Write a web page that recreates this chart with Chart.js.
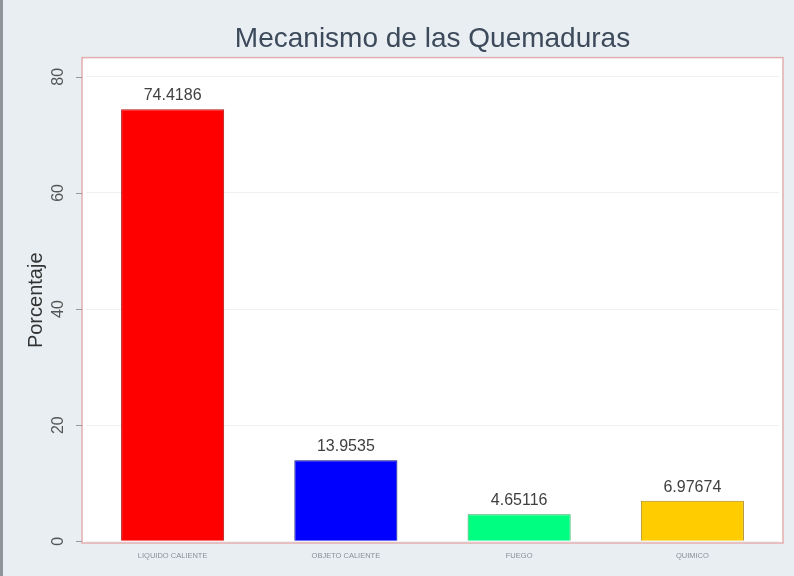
<!DOCTYPE html>
<html>
<head>
<meta charset="utf-8">
<script src="https://cdn.jsdelivr.net/npm/chart.js@4.4.1/dist/chart.umd.min.js"></script>
<style>
  html, body { margin: 0; padding: 0; background: #e9eef2; }
  #wrap { width: 794px; height: 576px; position: relative; }
</style>
</head>
<body>
<div id="wrap"><canvas id="chart" width="794" height="576"></canvas></div>
<script>
// ─── Data ─────────────────────────────────────────────────────────────────────
const categories = ['LIQUIDO CALIENTE', 'OBJETO CALIENTE', 'FUEGO', 'QUIMICO'];
const percentages = [74.4186, 13.9535, 4.65116, 6.97674];
const valueLabels = ['74.4186', '13.9535', '4.65116', '6.97674'];
const yTicks = [0, 20, 40, 60, 80];

const barColors  = ['#ff0000', '#0000ff', '#00ff80', '#ffcc00'];
const edgeColors = ['#b01818', '#10107a', '#2aa860', '#a88a20'];

const FONT = '"Liberation Sans", Arial, sans-serif';
const INSET = 4;   // plot region is a little wider than the bar area (Stata-style)

// Background, left frame edge, plot region and its pink border
const framePlugin = {
    id: 'frame',
    beforeDraw(chart) {
        const { ctx, width, height, chartArea: a } = chart;
        ctx.save();
        ctx.fillStyle = '#e9eef2';
        ctx.fillRect(0, 0, width, height);
        ctx.fillStyle = '#8e969c';
        ctx.fillRect(0, 0, 3, height);
        ctx.fillStyle = '#ffffff';
        ctx.fillRect(a.left - INSET, a.top, a.right - a.left + 2 * INSET, a.bottom - a.top);
        ctx.restore();
    },
    afterDatasetsDraw(chart) {
        const { ctx, chartArea: a } = chart;
        const y = chart.scales.y;
        ctx.save();
        ctx.strokeStyle = '#e3aeb0';
        ctx.lineWidth = 1.5;
        ctx.strokeRect(a.left - INSET, a.top, a.right - a.left + 2 * INSET, a.bottom - a.top);
        // outside tick marks on the y axis
        ctx.strokeStyle = '#9a9a9a';
        ctx.lineWidth = 1;
        yTicks.forEach(v => {
            const py = Math.round(y.getPixelForValue(v)) + 0.5;
            ctx.beginPath();
            ctx.moveTo(a.left - INSET - 6, py);
            ctx.lineTo(a.left - INSET, py);
            ctx.stroke();
        });
        ctx.restore();
    }
};

// Value labels above each bar
const valueLabelPlugin = {
    id: 'valueLabels',
    afterDatasetsDraw(chart) {
        const { ctx } = chart;
        const meta = chart.getDatasetMeta(0);
        ctx.save();
        ctx.font = '16px ' + FONT;
        ctx.fillStyle = '#404040';
        ctx.textAlign = 'center';
        ctx.textBaseline = 'alphabetic';
        meta.data.forEach((bar, i) => {
            ctx.fillText(valueLabels[i], bar.x, bar.y - 9);
        });
        ctx.restore();
    }
};

new Chart(document.getElementById('chart'), {
    type: 'bar',
    data: {
        labels: categories,
        datasets: [{
            data: percentages,
            backgroundColor: barColors,
            borderColor: edgeColors,
            borderWidth: 1,
            categoryPercentage: 1,
            barPercentage: 0.595
        }]
    },
    options: {
        responsive: false,
        animation: false,
        layout: { padding: { left: 0, right: 15, top: 0, bottom: 0 } },
        plugins: {
            legend: { display: false },
            tooltip: { enabled: false },
            title: {
                display: true,
                fullSize: false,
                text: 'Mecanismo de las Quemaduras',
                color: '#3d4a5b',
                font: { family: FONT, size: 28, weight: 'normal' },
                padding: { top: 22, bottom: 2 }
            }
        },
        scales: {
            x: {
                grid: { display: false },
                border: { display: false },
                ticks: {
                    color: '#8a8f96',
                    font: { family: FONT, size: 7.5 },
                    maxRotation: 0,
                    autoSkip: false,
                    padding: 0
                },
                afterFit: s => { s.height = 33; }
            },
            y: {
                min: -0.3,
                max: 83.3,
                afterBuildTicks: s => { s.ticks = yTicks.map(v => ({ value: v })); },
                grid: {
                    color: '#eef1f4',
                    drawTicks: false
                },
                border: { display: false },
                ticks: {
                    color: '#555',
                    font: { family: FONT, size: 16 },
                    minRotation: 90,
                    maxRotation: 90,
                    crossAlign: 'center',
                    padding: 19
                },
                title: {
                    display: true,
                    text: 'Porcentaje',
                    color: '#333',
                    font: { family: FONT, size: 20 },
                    padding: { top: 24, bottom: 0 }
                },
                afterFit: s => { s.width = 86; }
            }
        }
    },
    plugins: [framePlugin, valueLabelPlugin]
});
</script>
</body>
</html>
